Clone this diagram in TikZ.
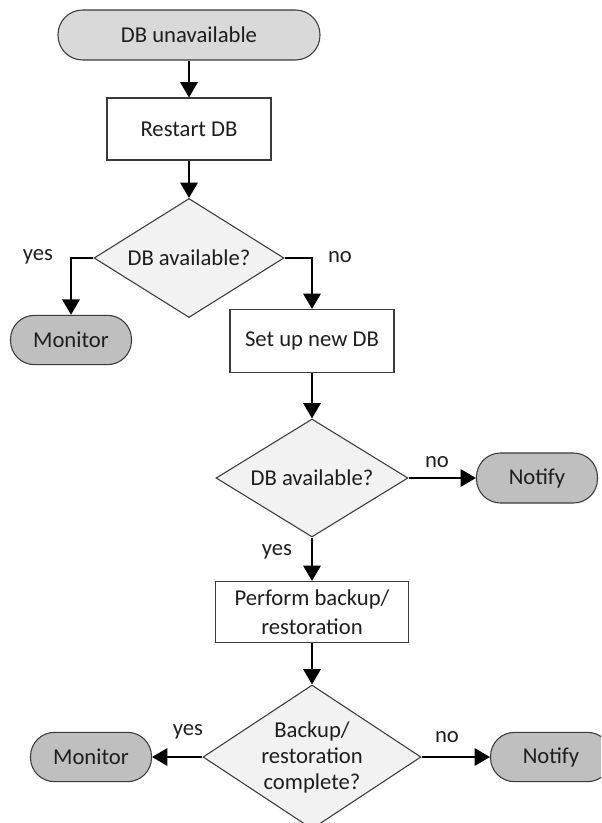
\documentclass[tikz,border=0pt]{standalone}
\usepackage{fontspec}
\setmainfont{Carlito}
\usetikzlibrary{shapes.geometric,arrows.meta}

\definecolor{edgegray}{HTML}{3A3A3A}
\definecolor{startfill}{HTML}{D9D9D9}
\definecolor{endfill}{HTML}{BFBFBF}
\definecolor{decfill}{HTML}{F2F2F2}
\definecolor{txt}{HTML}{1E1E1E}

\tikzset{
  base/.style={draw=edgegray, line width=0.8pt, text=txt, inner sep=0pt,
    font=\fontsize{17}{20}\selectfont, align=center},
  startterm/.style={base, fill=startfill, rounded corners=18.5pt,
    minimum width=196.5pt, minimum height=37.5pt},
  endterm/.style={base, fill=endfill, rounded corners=18pt,
    minimum width=90.75pt, minimum height=37pt},
  procbox/.style={base, fill=white, minimum width=123pt, minimum height=46.5pt},
  decision/.style={base, diamond, fill=decfill, shape aspect=1.55},
  flow/.style={draw=black, line width=1.6pt,
    -{Triangle[width=13pt,length=11.5pt]}},
  lbl/.style={text=txt, font=\fontsize{17}{20}\selectfont, inner sep=0pt}
}

\begin{document}
\begin{tikzpicture}[x=0.75pt, y=-0.75pt]
  \useasboundingbox (0,0) rectangle (601,823);
  \begin{scope}
    \clip (0,0) rectangle (601,823);

    % nodes
    \node[startterm] (start) at (189,35) {DB unavailable};
    \node[procbox] (restart) at (189,129) {Restart DB};
    \node[decision, minimum width=142.5pt, minimum height=89.25pt] (d1) at (189,258) {DB available?};
    \node[endterm] (mon1) at (71,340) {Monitor};
    \node[procbox, minimum height=47.25pt] (setup) at (312,341) {Set up new DB};
    \node[decision, minimum width=144pt, minimum height=88.5pt] (d2) at (312,478) {DB available?};
    \node[endterm, minimum height=37.5pt] (notify1) at (537,478) {Notify};
    \node[procbox, minimum width=144.75pt, minimum height=45.75pt,
          font=\fontsize{17}{21.75}\selectfont] (perform) at (312,612) {Perform backup/\\restoration};
    \node[decision, minimum width=163.5pt, minimum height=108pt,
          font=\fontsize{17}{19.5}\selectfont] (d3) at (312,757) {Backup/\\restoration\\complete?};
    \node[endterm] (mon2) at (91,757) {Monitor};
    \node[endterm] (notify2) at (551,757) {Notify};

    % connectors
    \draw[flow] (start) -- (restart);
    \draw[flow] (restart) -- (d1);
    \draw[flow] (d1.west) -| (mon1.north);
    \draw[flow] (d1.east) -| (setup.north);
    \draw[flow] (setup) -- (d2);
    \draw[flow] (d2.east) -- (notify1.west);
    \draw[flow] (d2.south) -- (perform.north);
    \draw[flow] (perform) -- (d3);
    \draw[flow] (d3.west) -- (mon2.east);
    \draw[flow] (d3.east) -- (notify2.west);

    % branch labels
    \node[lbl] (l1) at (38,257) {yes};
    \node[lbl] (l2) at (340,257) {no};
    \node[lbl] (l3) at (437,462) {no};
    \node[lbl] (l4) at (277,552) {yes};
    \node[lbl] (l5) at (188,732) {yes};
    \node[lbl] (l6) at (447,737) {no};
  \end{scope}
\end{tikzpicture}
\end{document}
